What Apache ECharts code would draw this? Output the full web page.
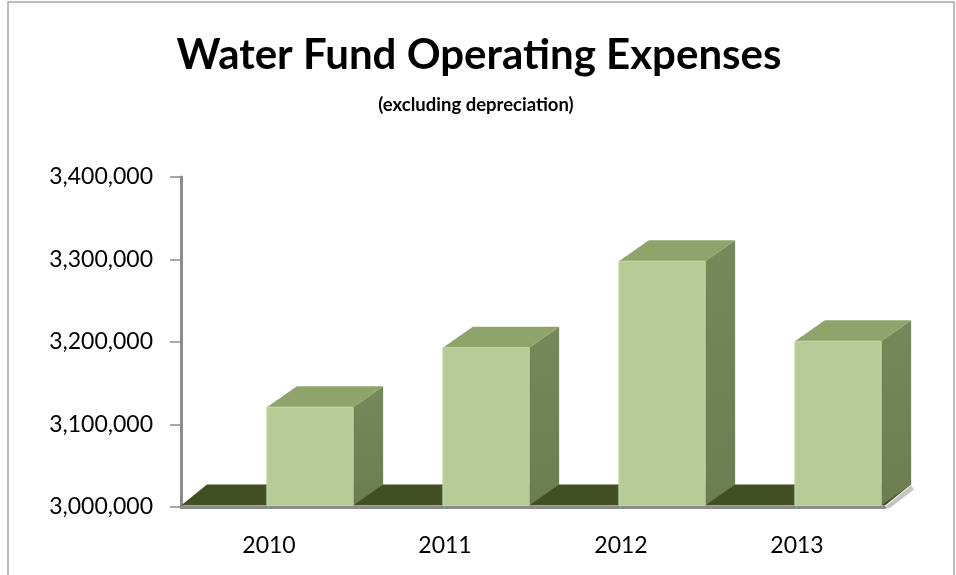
<!DOCTYPE html>
<html>
<head>
<meta charset="utf-8">
<script src="https://cdn.jsdelivr.net/npm/echarts@6/dist/echarts.min.js"></script>
<style>
  html, body { margin: 0; padding: 0; background: #ffffff; }
  #chart { width: 956px; height: 575px; }
</style>
</head>
<body>
<div id="chart"></div>
<script>
// ---- data ----
const categories = ['2010', '2011', '2012', '2013'];
const expenses = [3121000, 3193000, 3298000, 3201000];
const yMin = 3000000;
const yMax = 3400000;
const yStep = 100000;

const FONT = 'Lato';
const frontColor = '#b6cb96';
const topColor = '#8ea46b';
const floorColor = '#414f23';

function fmt(v) {
  return String(v).replace(/\B(?=(\d{3})+(?!\d))/g, ',');
}

const DX = 30, DY = -21;

function renderFloor(params, api) {
  const cs = params.coordSys;
  const x = cs.x, w = cs.width, yb = cs.y + cs.height - 1.5;
  return {
    type: 'group',
    children: [
      { type: 'polygon', shape: { points: [[x, yb], [x + 26, yb + DY], [x + w + 26, yb + DY], [x + w, yb]] },
        style: { fill: floorColor } },
      { type: 'polygon', shape: { points: [[x + w, yb + 1.5], [x + w + 26, yb + DY + 1], [x + w + 29, yb + DY + 5], [x + w + 4, yb + 3]] },
        style: { fill: '#c4c4c4' } }
    ]
  };
}

function renderBar(params, api) {
  const i = api.value(0), v = api.value(1);
  const top = api.coord([i, v]);
  const base = api.coord([i, yMin]);
  const band = api.size([1, 0])[0];
  const w = band * 0.49;
  const x0 = top[0] - band * 0.012;
  const x1 = x0 + w;
  const y0 = top[1], y1 = base[1] - 1.5;
  return {
    type: 'group',
    children: [
      { type: 'polygon', shape: { points: [[x1, y0], [x1 + DX, y0 + DY], [x1 + DX, y1 + DY], [x1, y1]] },
        style: { fill: new echarts.graphic.LinearGradient(0, 0, 0, 1, [
          { offset: 0, color: '#76895a' }, { offset: 1, color: '#6b7e51' }]) } },
      { type: 'polygon', shape: { points: [[x0, y0], [x0 + DX, y0 + DY], [x1 + DX, y0 + DY], [x1, y0]] },
        style: { fill: topColor } },
      { type: 'rect', shape: { x: x0, y: y0, width: w, height: y1 - y0 },
        style: { fill: frontColor, stroke: '#c3d6a6', lineWidth: 1 } }
    ]
  };
}

const chart = echarts.init(document.getElementById('chart'), null, { renderer: 'canvas' });
chart.setOption({
  backgroundColor: '#ffffff',
  animation: false,
  title: [
    { text: 'Water Fund Operating Expenses', left: 474, top: 29, textAlign: 'center',
      textStyle: { fontFamily: FONT, fontWeight: 'bold', fontSize: 42, color: '#000' } },
    { text: '(excluding depreciation)', left: 471, top: 91, textAlign: 'center',
      textStyle: { fontFamily: FONT, fontWeight: 'bold', fontSize: 18.5, color: '#000' } }
  ],
  graphic: [
    { type: 'polyline', shape: { points: [[8, 575], [8, 2], [954, 2], [954, 575]] },
      style: { stroke: '#a6a6a6', lineWidth: 1.5, fill: null } }
  ],
  grid: { left: 181, right: 71, top: 177, bottom: 68 },
  xAxis: {
    type: 'category',
    data: categories,
    axisLine: { show: true, lineStyle: { color: '#8c8c8c', width: 3 } },
    axisTick: { show: false },
    axisLabel: { fontFamily: FONT, fontSize: 23, color: '#000', margin: 27 },
    splitLine: { show: false }
  },
  yAxis: {
    type: 'value',
    min: yMin, max: yMax, interval: yStep,
    axisLine: { show: true, lineStyle: { color: '#8c8c8c', width: 3 } },
    axisTick: { show: true, length: 11, lineStyle: { color: '#8c8c8c', width: 1.5 } },
    axisLabel: { fontFamily: FONT, fontSize: 23, color: '#000', margin: 28, formatter: fmt },
    splitLine: { show: false }
  },
  series: [
    { type: 'custom', renderItem: renderFloor, data: [[0]], z: 1, silent: true },
    { type: 'custom', renderItem: renderBar, z: 2,
      encode: { x: 0, y: 1 },
      data: categories.map((c, i) => [i, expenses[i]]) }
  ]
});
</script>
</body>
</html>
